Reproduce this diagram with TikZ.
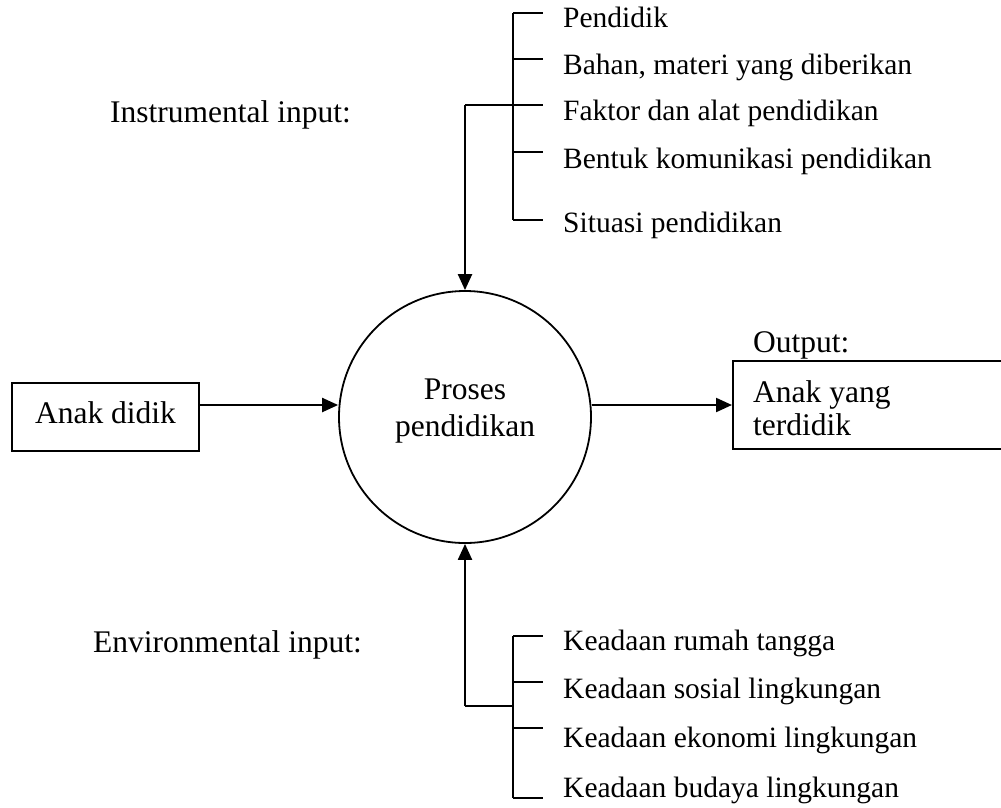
\documentclass[tikz,border=0pt]{standalone}
\usepackage{fontspec}
\setmainfont{Liberation Serif}
\usetikzlibrary{arrows.meta,positioning}

\begin{document}
\begin{tikzpicture}[x=1pt, y=-1pt,
    big/.style = {font=\fontsize{31.5}{37}\selectfont, inner sep=0pt},
    item/.style = {font=\fontsize{29.5}{35}\selectfont, inner sep=0pt, anchor=base west},
    frame/.style = {draw, line width=1.8pt},
    bracket/.style = {line width=1.8pt},
    flow/.style = {line width=2.2pt, -{Triangle[length=16pt,width=14pt]}}]
    \useasboundingbox (0,0) rectangle (1001,807);
    % process in the middle
    \node[frame, circle, minimum size=252pt, inner sep=0pt] (proses) at (465,417) {};
    \node[big, align=center] (prosestxt) at (465,411) {Proses\\pendidikan};
    % raw input and output
    \node[frame, big, minimum width=187pt, minimum height=68pt, text height=21pt, text depth=9pt] (anak) at (105.5,417) {Anak didik};
    \node[frame, minimum width=280pt, minimum height=88pt, anchor=north west] (outbox) at (732,360) {};
    \node[big, anchor=base west] (outlbl) at (753,352) {Output:};
    \node[big, anchor=base west] (out1) at (753,402) {Anak yang};
    \node[big, anchor=base west] (out2) at (753,435) {terdidik};
    % side labels
    \node[big, anchor=base west] (instr) at (110,122) {Instrumental input:};
    \node[big, anchor=base west] (envi) at (93,652) {Environmental input:};
    % instrumental list
    \node[item] (in1) at (563,27) {Pendidik};
    \node[item] (in2) at (563,74) {Bahan, materi yang diberikan};
    \node[item] (in3) at (563,120) {Faktor dan alat pendidikan};
    \node[item] (in4) at (563,168) {Bentuk komunikasi pendidikan};
    \node[item] (in5) at (563,232) {Situasi pendidikan};
    % environmental list
    \node[item] (en1) at (563,650) {Keadaan rumah tangga};
    \node[item] (en2) at (563,698) {Keadaan sosial lingkungan};
    \node[item] (en3) at (563,747) {Keadaan ekonomi lingkungan};
    \node[item] (en4) at (563,797) {Keadaan budaya lingkungan};
    % top bracket
    \coordinate (ti1) at (513,13);
    \coordinate (ti2) at (513,59);
    \coordinate (ti3) at (513,105);
    \coordinate (ti4) at (513,152);
    \coordinate (ti5) at (513,220);
    \coordinate (tjoin) at (465,105);
    \draw[bracket] (ti1) -- (ti5);
    \foreach \t in {ti1,ti2,ti3,ti4,ti5}
        \draw[bracket] (\t) -- ++(30,0);
    \draw[bracket] (tjoin) -- (ti3);
    % bottom bracket
    \coordinate (bi1) at (513,636);
    \coordinate (bi2) at (513,682);
    \coordinate (bi3) at (513,728);
    \coordinate (bi4) at (513,798);
    \coordinate (bjoin) at (465,706);
    \draw[bracket] (bi1) -- (bi4);
    \foreach \t in {bi1,bi2,bi3,bi4}
        \draw[bracket] (\t) -- ++(30,0);
    \draw[bracket] (bjoin) -- (bjoin -| bi1);
    % arrows
    \coordinate (lvl) at (0,405);
    \draw[flow] (tjoin) -- (proses.north);
    \draw[flow] (bjoin) -- (proses.south);
    \draw[flow] (anak.east |- lvl) -- (proses.west |- lvl);
    \draw[flow] (proses.east |- lvl) -- (outbox.west |- lvl);
\end{tikzpicture}
\end{document}
